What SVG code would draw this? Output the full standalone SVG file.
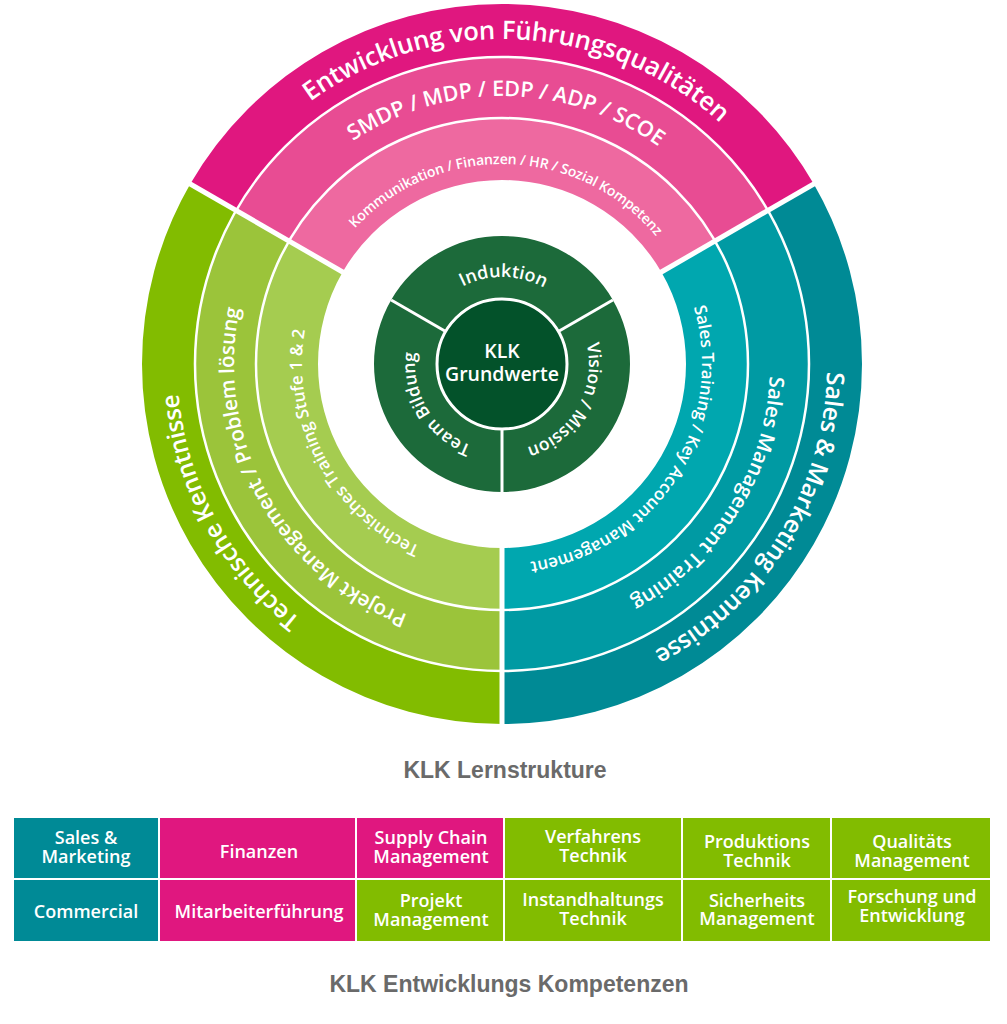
<svg xmlns="http://www.w3.org/2000/svg" xmlns:xlink="http://www.w3.org/1999/xlink" width="1007" height="1024" viewBox="0 0 1007 1024">
<style>
.rt{font-family:"Open Sans",Lato,"DejaVu Sans",sans-serif;font-weight:600;fill:#fff;}
.ct{font-family:"Open Sans",Lato,sans-serif;font-weight:600;fill:#fff;font-size:19.5px;}
.tt{font-family:"Open Sans","DejaVu Sans",sans-serif;font-weight:600;fill:#fff;font-size:18px;text-anchor:middle;}
.ti{font-family:"Liberation Sans",Arial,sans-serif;font-weight:700;fill:#6a6a6a;font-size:23px;text-anchor:middle;}
.sep{stroke:#fff;fill:none;}
.cell{stroke:#fff;stroke-width:2;}
.teal{fill:#008A96;}.pink{fill:#E0177F;}.green{fill:#82BC00;}
</style>
<defs>
<path id="a1" d="M 180.16 318.77 A 325 325 0 0 1 826.80 352.66"/>
<path id="a2" d="M 235.47 335.99 A 268 268 0 0 1 769.35 345.30"/>
<path id="a3" d="M 303.29 341.36 A 200 200 0 0 1 701.63 351.79"/>
<path id="a4" d="M 631.59 662.04 A 325 325 0 0 1 322.62 92.99"/>
<path id="a5" d="M 609.72 609.40 A 268 268 0 0 1 353.30 141.04"/>
<path id="a6" d="M 580.15 548.10 A 200 200 0 0 1 393.07 196.27"/>
<path id="a7" d="M 696.68 103.76 A 325 325 0 0 1 355.46 654.09"/>
<path id="a8" d="M 663.29 149.96 A 268 268 0 0 1 380.33 602.79"/>
<path id="a9" d="M 624.33 205.77 A 200 200 0 0 1 409.03 541.08"/>
<path id="a10" d="M 415.48 354.91 A 87 87 0 0 1 588.79 357.93"/>
<path id="a11" d="M 551.90 292.73 A 87 87 0 0 1 465.23 442.85"/>
<path id="a12" d="M 540.14 442.19 A 87 87 0 0 1 450.86 293.62"/>
</defs>
<rect width="1007" height="1024" fill="#fff"/>

<g id="pink-outer">
<path fill="#E0177F" d="M 190.23 184 A 360 360 0 0 1 813.77 184 L 767.87 210.5 A 307 307 0 0 0 236.13 210.5 Z"/>
<text class="rt" font-size="25.5"><textPath xlink:href="#a1" startOffset="50%" text-anchor="middle" textLength="444">Entwicklung von Führungsqualitäten</textPath></text>
</g>
<g id="pink-mid">
<path fill="#E84C93" d="M 236.13 210.5 A 307 307 0 0 1 767.87 210.5 L 715.04 241 A 246 246 0 0 0 288.96 241 Z"/>
<text class="rt" font-size="21.5"><textPath xlink:href="#a2" startOffset="50%" text-anchor="middle" textLength="325">SMDP / MDP / EDP / ADP / SCOE</textPath></text>
</g>
<g id="pink-inner">
<path fill="#EE69A0" d="M 288.96 241 A 246 246 0 0 1 715.04 241 L 661.35 272 A 184 184 0 0 0 342.65 272 Z"/>
<text class="rt" font-size="14"><textPath xlink:href="#a3" startOffset="50%" text-anchor="middle" textLength="341">Kommunikation / Finanzen / HR / Sozial Kompetenz</textPath></text>
</g>

<g id="green-outer">
<path fill="#82BC00" d="M 502 724 A 360 360 0 0 1 190.23 184 L 236.13 210.5 A 307 307 0 0 0 502 671 Z"/>
<text class="rt" font-size="24.5"><textPath xlink:href="#a4" startOffset="50%" text-anchor="middle" textLength="264">Technische Kenntnisse</textPath></text>
</g>
<g id="green-mid">
<path fill="#9BC43A" d="M 502 671 A 307 307 0 0 1 236.13 210.5 L 288.96 241 A 246 246 0 0 0 502 610 Z"/>
<text class="rt" font-size="20.5"><textPath xlink:href="#a5" startOffset="50%" text-anchor="middle" textLength="380">Projekt Management / Problem lösung</textPath></text>
</g>
<g id="green-inner">
<path fill="#A5CC50" d="M 502 610 A 246 246 0 0 1 288.96 241 L 342.65 272 A 184 184 0 0 0 502 548 Z"/>
<text class="rt" font-size="17"><textPath xlink:href="#a6" startOffset="50%" text-anchor="middle" textLength="264">Technisches Training Stufe 1 &amp; 2</textPath></text>
</g>

<g id="teal-outer">
<path fill="#008A95" d="M 813.77 184 A 360 360 0 0 1 502 724 L 502 671 A 307 307 0 0 0 767.87 210.5 Z"/>
<text class="rt" font-size="24.5"><textPath xlink:href="#a7" startOffset="50%" text-anchor="middle" textLength="345">Sales &amp; Marketing Kenntnisse</textPath></text>
</g>
<g id="teal-mid">
<path fill="#009AA3" d="M 767.87 210.5 A 307 307 0 0 1 502 671 L 502 610 A 246 246 0 0 0 715.04 241 Z"/>
<text class="rt" font-size="20.5"><textPath xlink:href="#a8" startOffset="50%" text-anchor="middle" textLength="275">Sales Management Training</textPath></text>
</g>
<g id="teal-inner">
<path fill="#00A7AF" d="M 715.04 241 A 246 246 0 0 1 502 610 L 502 548 A 184 184 0 0 0 661.35 272 Z"/>
<text class="rt" font-size="17"><textPath xlink:href="#a9" startOffset="50%" text-anchor="middle" textLength="344">Sales Training / Key Account Management</textPath></text>
</g>

<g id="ring-dividers" class="sep">
<circle cx="502" cy="364" r="246" stroke-width="2.5"/>
<circle cx="502" cy="364" r="307" stroke-width="2.5"/>
<line x1="344.38" y1="273" x2="187.63" y2="182.5" stroke-width="5"/>
<line x1="659.62" y1="273" x2="816.37" y2="182.5" stroke-width="5"/>
<line x1="502" y1="546" x2="502" y2="727" stroke-width="5"/>
</g>

<g id="induktion">
<path fill="#1C6A3A" d="M 391.15 300 A 128 128 0 0 1 612.85 300 L 559.16 331 A 66 66 0 0 0 444.84 331 Z"/>
<text class="rt" font-size="18"><textPath xlink:href="#a10" startOffset="50%" text-anchor="middle" textLength="85">Induktion</textPath></text>
</g>
<g id="vision-mission">
<path fill="#1C6A3A" d="M 612.85 300 A 128 128 0 0 1 502 492 L 502 430 A 66 66 0 0 0 559.16 331 Z"/>
<text class="rt" font-size="17.5"><textPath xlink:href="#a11" startOffset="50%" text-anchor="middle" textLength="132">Vision / Mission</textPath></text>
</g>
<g id="team-bildung">
<path fill="#1C6A3A" d="M 502 492 A 128 128 0 0 1 391.15 300 L 444.84 331 A 66 66 0 0 0 502 430 Z"/>
<text class="rt" font-size="17.5"><textPath xlink:href="#a12" startOffset="50%" text-anchor="middle" textLength="117">Team Bildung</textPath></text>
</g>
<g id="core-dividers" class="sep" stroke-width="3">
<line x1="444.84" y1="331" x2="391.15" y2="300"/>
<line x1="559.16" y1="331" x2="612.85" y2="300"/>
<line x1="502" y1="430" x2="502" y2="492"/>
</g>
<g id="klk-grundwerte">
<circle cx="502" cy="364" r="65" fill="#03522A" stroke="#fff" stroke-width="3"/>
<text class="ct" x="502" y="358" text-anchor="middle">KLK</text>
<text class="ct" x="502" y="381" text-anchor="middle">Grundwerte</text>
</g>

<text id="title-lernstruktur" class="ti" x="505" y="778">KLK Lernstrukture</text>

<g id="table">
<g id="c-sales-marketing"><rect class="cell teal" x="13" y="817" width="146" height="62"/><text class="tt" x="86" y="844">Sales &amp;</text><text class="tt" x="86" y="863">Marketing</text></g>
<g id="c-finanzen"><rect class="cell pink" x="159" y="817" width="197" height="62"/><text class="tt" x="259" y="858">Finanzen</text></g>
<g id="c-supply-chain"><rect class="cell pink" x="356" y="817" width="148" height="62"/><text class="tt" x="431" y="844">Supply Chain</text><text class="tt" x="431" y="863">Management</text></g>
<g id="c-verfahrens"><rect class="cell green" x="504" y="817" width="178" height="62"/><text class="tt" x="593" y="843">Verfahrens</text><text class="tt" x="593" y="862">Technik</text></g>
<g id="c-produktions"><rect class="cell green" x="682" y="817" width="149" height="62"/><text class="tt" x="757" y="848">Produktions</text><text class="tt" x="757" y="867">Technik</text></g>
<g id="c-qualitaets"><rect class="cell green" x="831" y="817" width="160" height="62"/><text class="tt" x="912" y="848">Qualitäts</text><text class="tt" x="912" y="867">Management</text></g>
<g id="c-commercial"><rect class="cell teal" x="13" y="879" width="146" height="63"/><text class="tt" x="86" y="918">Commercial</text></g>
<g id="c-mitarbeiter"><rect class="cell pink" x="159" y="879" width="197" height="63"/><text class="tt" x="259" y="918">Mitarbeiterführung</text></g>
<g id="c-projekt"><rect class="cell green" x="356" y="879" width="148" height="63"/><text class="tt" x="431" y="907">Projekt</text><text class="tt" x="431" y="926">Management</text></g>
<g id="c-instandhaltung"><rect class="cell green" x="504" y="879" width="178" height="63"/><text class="tt" x="593" y="906">Instandhaltungs</text><text class="tt" x="593" y="925">Technik</text></g>
<g id="c-sicherheit"><rect class="cell green" x="682" y="879" width="149" height="63"/><text class="tt" x="757" y="907">Sicherheits</text><text class="tt" x="757" y="925">Management</text></g>
<g id="c-forschung"><rect class="cell green" x="831" y="879" width="160" height="63"/><text class="tt" x="912" y="903">Forschung und</text><text class="tt" x="912" y="922">Entwicklung</text></g>
</g>

<text id="title-kompetenzen" class="ti" x="509" y="992">KLK Entwicklungs Kompetenzen</text>
</svg>
